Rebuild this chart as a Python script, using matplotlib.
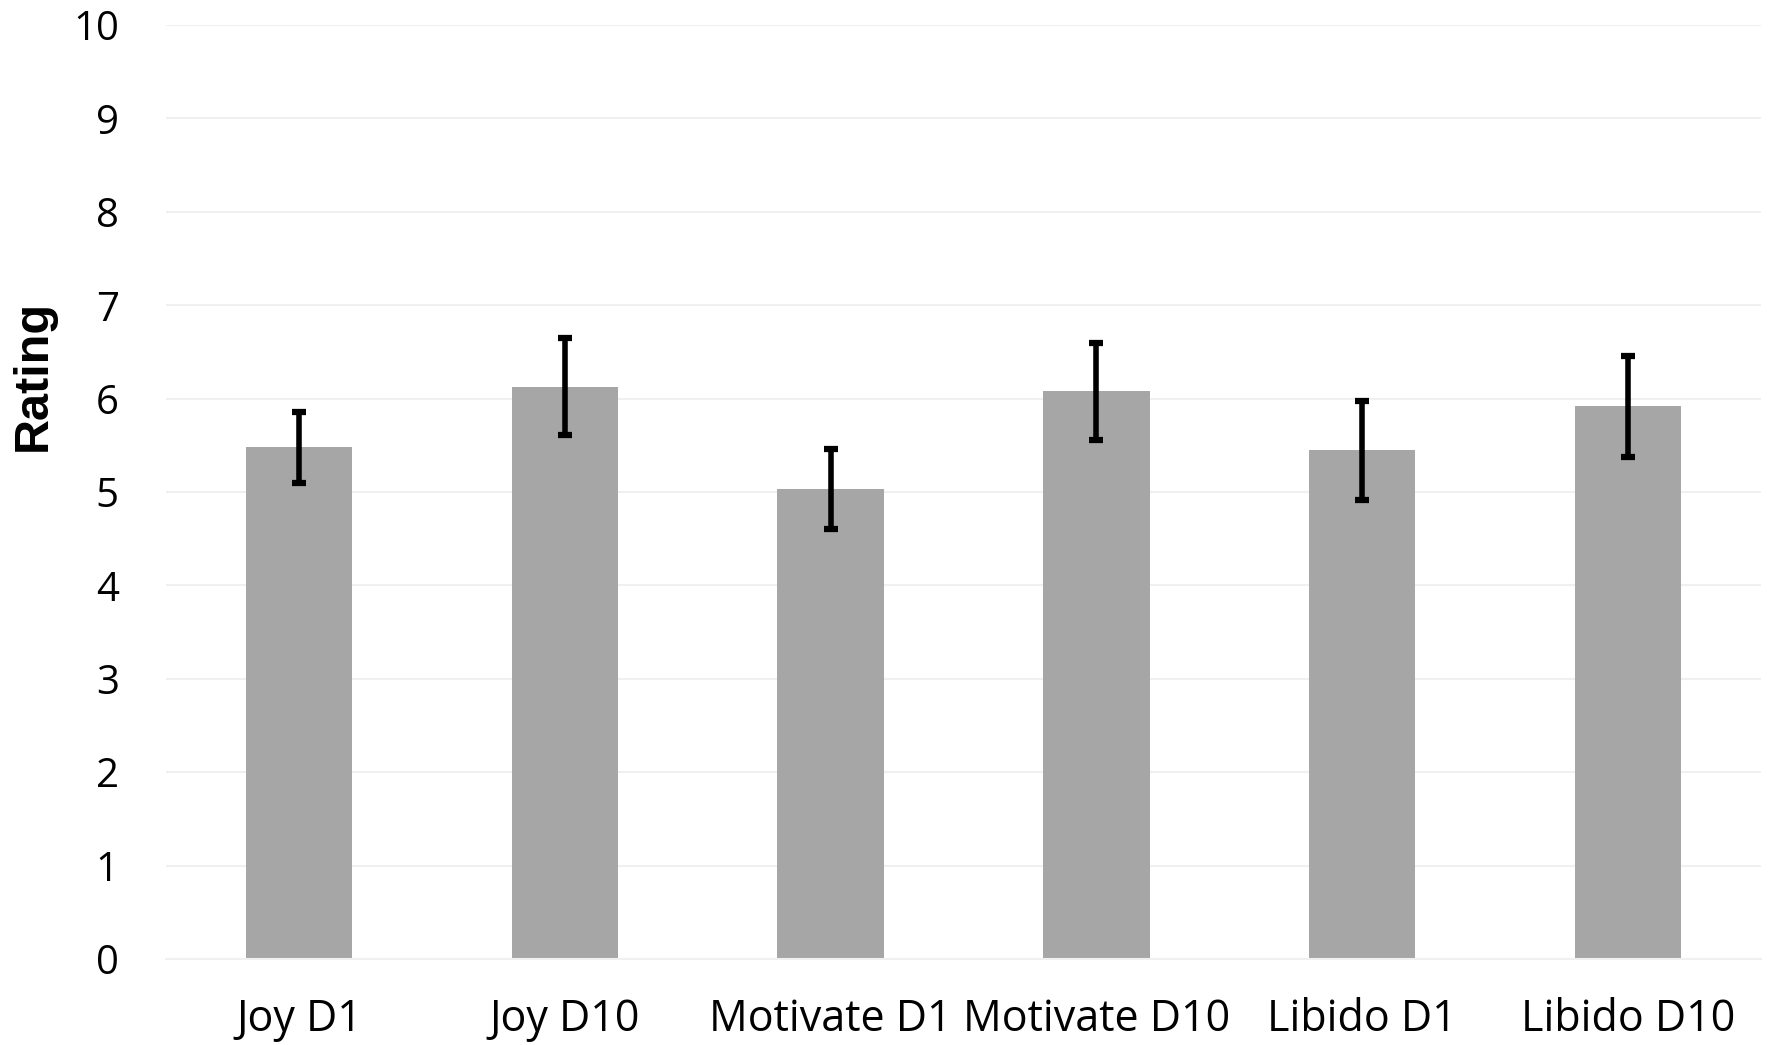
import matplotlib.pyplot as plt
import numpy as np

categories = ["Joy D1", "Joy D10", "Motivate D1", "Motivate D10", "Libido D1", "Libido D10"]
means = [5.48, 6.13, 5.03, 6.08, 5.45, 5.92]
errors = [0.38, 0.52, 0.43, 0.52, 0.53, 0.54]

plt.rcParams['font.family'] = ['Open Sans', 'DejaVu Sans']

fig = plt.figure(figsize=(17.68, 10.45), dpi=100)
ax = fig.add_axes([0.0939, 0.0823, 0.9021, 0.8937])

x = np.arange(len(categories))
ax.bar(x, means, width=0.4, color='#a6a6a6', zorder=2)
ax.errorbar(x, means, yerr=errors, fmt='none', ecolor='black',
            elinewidth=4, capsize=5, capthick=4.5, zorder=3)

ax.set_xlim(-0.5, len(categories) - 0.5)
ax.set_ylim(0, 10)
ax.set_yticks(range(0, 11))
ax.set_xticks(x)
ax.set_xticklabels(categories)
ax.yaxis.grid(True, color='#f0f0f0', linewidth=1.5, zorder=0)
ax.set_axisbelow(True)

for side in ['top', 'right', 'left']:
    ax.spines[side].set_visible(False)
ax.spines['bottom'].set_color('#f0f0f0')
ax.spines['bottom'].set_linewidth(1.5)
ax.tick_params(axis='both', length=0)
ax.tick_params(axis='y', pad=34, labelsize=29)
ax.tick_params(axis='x', pad=28, labelsize=31)

fig.text(0.019, 0.641, 'Rating', rotation=90, ha='center', va='center',
         fontsize=35, fontweight='bold', family=['Liberation Sans', 'DejaVu Sans'])

fig.savefig('out.png', dpi=100)
